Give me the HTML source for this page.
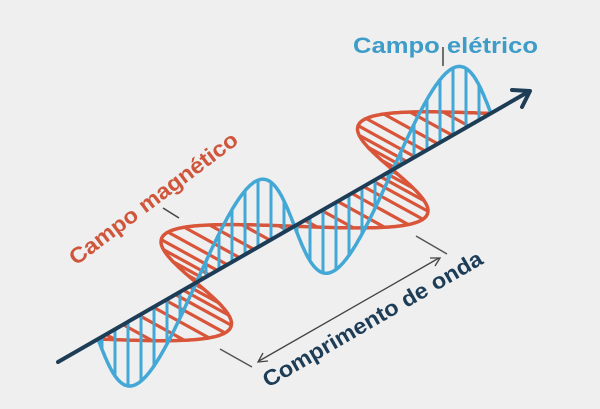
<!DOCTYPE html>
<html><head><meta charset="utf-8"><style>
html,body{margin:0;padding:0;background:#efefef;}
svg{display:block;}
text{font-family:"Liberation Sans","DejaVu Sans",sans-serif;font-weight:bold;}
</style></head><body>
<svg id="s" width="600" height="409" viewBox="0 0 600 409" xmlns="http://www.w3.org/2000/svg">
<rect width="600" height="409" fill="#efefef"/>
<g id="red"></g>
<g id="blue"></g>
<line x1="58" y1="362" x2="528" y2="92" stroke="#1d3d57" stroke-width="4" stroke-linecap="round"/>
<polyline points="512,90 530,91 522,107" fill="none" stroke="#1d3d57" stroke-width="4" stroke-linecap="round" stroke-linejoin="round"/>
<line x1="443" y1="47" x2="443" y2="66" stroke="#444" stroke-width="1.5"/>
<line x1="163" y1="208" x2="179" y2="218" stroke="#444" stroke-width="1.5"/>
<line x1="220" y1="349" x2="252" y2="367" stroke="#555" stroke-width="1.5"/>
<line x1="416" y1="236" x2="447" y2="254" stroke="#555" stroke-width="1.5"/>
<line x1="259" y1="361" x2="439" y2="258" stroke="#444" stroke-width="1.3"/>
<polyline points="263,353 258,362 268,361" fill="none" stroke="#444" stroke-width="1.3"/>
<polyline points="430,258 440,258 435,266" fill="none" stroke="#444" stroke-width="1.3"/>
<text x="353" y="53" font-size="22" fill="#3d9dc8" textLength="185" lengthAdjust="spacingAndGlyphs">Campo elétrico</text>
<text transform="translate(76,266) rotate(-37)" font-size="22" fill="#cf553b" textLength="205" lengthAdjust="spacingAndGlyphs">Campo magnético</text>
<text transform="translate(268,388) rotate(-30)" font-size="22" fill="#1d3d57" textLength="250" lengthAdjust="spacingAndGlyphs">Comprimento de onda</text>
</svg>
<script>
(function(){
var NS="http://www.w3.org/2000/svg";
var x0=98,hw=98.25,slope=-0.574;
function ax(x){return [x,362+slope*(x-58)];}
function S(x){return -Math.sin(Math.PI*(x-x0)/hw);}
function mk(g,tag,attrs){var e=document.createElementNS(NS,tag);for(var k in attrs)e.setAttribute(k,attrs[k]);g.appendChild(e);return e;}
var red=document.getElementById('red'),blue=document.getElementById('blue');
var rp="",bp="";
for(var i=0;i<=400;i++){
 var x=x0+i*(4*hw)/400,s=S(x),a=ax(x);
 var rx=a[0]-78*s,ry=a[1]-22*s;
 var bx=a[0]+10*s,by=a[1]-73*s;
 rp+=(i?"L":"M")+rx.toFixed(1)+","+ry.toFixed(1);
 bp+=(i?"L":"M")+bx.toFixed(1)+","+by.toFixed(1);
}
var dx=1,dy=0.55;
for(var x=x0+5;x<x0+4*hw;x+=11){
 var s=S(x),a=ax(x);
 if(Math.abs(s)<0.1)continue;
 var px=a[0]-78*s,py=a[1]-22*s;
 var u=(362+slope*(px-58)-py)/(dy-slope*dx);
 mk(red,'line',{x1:px,y1:py,x2:px+u*dx,y2:py+u*dy,stroke:'#d9553a','stroke-width':3.2});
}
mk(red,'path',{d:rp,fill:'none',stroke:'#d9553a','stroke-width':3.5});
for(var x=x0+4;x<x0+4*hw;x+=13){
 var t=x;for(var k=0;k<6;k++){t=x-10*S(t);}
 var s=S(t);
 if(Math.abs(s)<0.08)continue;
 var by=ax(t)[1]-73*s,ay=ax(x)[1];
 mk(blue,'line',{x1:x,y1:ay,x2:x,y2:by,stroke:'#43a8d6','stroke-width':3});
}
mk(blue,'path',{d:bp,fill:'none',stroke:'#43a8d6','stroke-width':3.5});
})();
</script>
</body></html>
